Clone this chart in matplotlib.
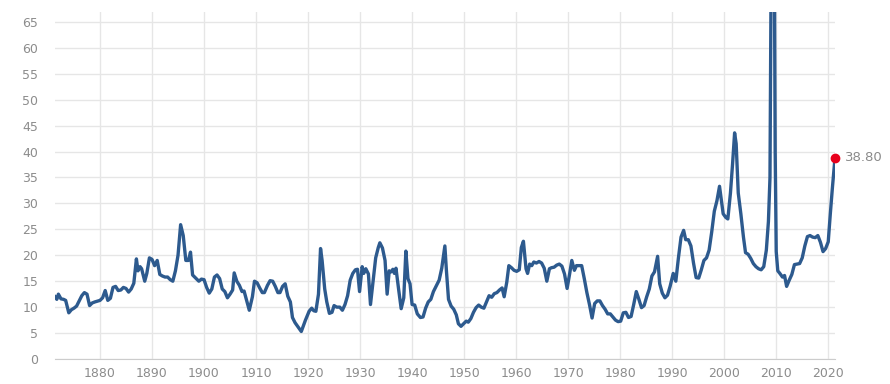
import matplotlib.pyplot as plt

# S&P 500 PE ratio (fractional years)
years = [
    1871.35, 1871.7, 1872.0, 1872.5, 1873.0, 1873.4, 1874.0, 1874.5, 1875.0, 1875.5,
    1876.0, 1876.5, 1877.0, 1877.5, 1878.0, 1878.5, 1879.0, 1880.0, 1880.5, 1881.0,
    1881.5, 1882.0, 1882.5, 1883.0, 1883.5, 1884.0, 1884.5, 1885.0, 1885.5, 1886.0,
    1886.5, 1887.0, 1887.3, 1887.7, 1888.0, 1888.6, 1889.0, 1889.5, 1890.0, 1890.5,
    1891.0, 1891.5, 1892.0, 1892.5, 1893.0, 1893.5, 1894.0, 1894.5, 1895.0, 1895.5,
    1896.0, 1896.5, 1897.0, 1897.4, 1897.8, 1898.5, 1899.0, 1899.5, 1900.0, 1900.5,
    1901.0, 1901.5, 1902.0, 1902.5, 1903.0, 1903.5, 1904.0, 1904.5, 1905.0, 1905.5,
    1905.8, 1906.3, 1906.8, 1907.3, 1907.7, 1908.3, 1908.7, 1909.3, 1909.7, 1910.2,
    1910.7, 1911.2, 1911.6, 1912.2, 1912.7, 1913.2, 1913.7, 1914.2, 1914.6, 1915.1,
    1915.6, 1916.1, 1916.6, 1917.0, 1917.5, 1918.0, 1918.7, 1919.5, 1920.2, 1920.7,
    1921.1, 1921.5, 1922.0, 1922.4, 1922.7, 1923.2, 1923.6, 1924.1, 1924.6, 1925.0,
    1925.5, 1926.1, 1926.6, 1927.1, 1927.6, 1928.1, 1928.6, 1929.1, 1929.5, 1929.9,
    1930.4, 1930.7, 1931.1, 1931.6, 1932.0, 1932.5, 1933.0, 1933.5, 1933.8, 1934.3,
    1934.8, 1935.2, 1935.6, 1936.0, 1936.3, 1936.6, 1936.9, 1937.4, 1937.9, 1938.4,
    1938.8, 1939.2, 1939.6, 1940.0, 1940.5, 1941.0, 1941.6, 1942.1, 1942.6, 1943.1,
    1943.6, 1944.1, 1944.6, 1945.2, 1945.7, 1946.3, 1946.6, 1947.0, 1947.5, 1948.0,
    1948.5, 1948.9, 1949.4, 1949.9, 1950.4, 1950.8, 1951.3, 1951.8, 1952.3, 1952.8,
    1953.3, 1953.8, 1954.3, 1954.8, 1955.3, 1955.8, 1956.3, 1956.8, 1957.3, 1957.7,
    1958.2, 1958.6, 1959.1, 1959.6, 1960.1, 1960.6, 1961.0, 1961.4, 1961.9, 1962.2,
    1962.6, 1963.0, 1963.4, 1963.9, 1964.4, 1964.9, 1965.4, 1965.9, 1966.4, 1966.8,
    1967.3, 1967.8, 1968.3, 1968.8, 1969.3, 1969.8, 1970.3, 1970.7, 1971.2, 1971.6,
    1972.1, 1972.6, 1973.1, 1973.6, 1974.1, 1974.6, 1975.1, 1975.6, 1976.1, 1976.6,
    1977.1, 1977.6, 1978.1, 1978.6, 1979.1, 1979.6, 1980.1, 1980.6, 1981.1, 1981.6,
    1982.1, 1982.6, 1983.1, 1983.6, 1984.1, 1984.6, 1985.1, 1985.6, 1986.1, 1986.6,
    1987.2, 1987.6, 1988.1, 1988.6, 1989.1, 1989.6, 1990.2, 1990.7, 1991.2, 1991.7,
    1992.2, 1992.6, 1993.1, 1993.6, 1994.1, 1994.6, 1995.1, 1995.6, 1996.1, 1996.6,
    1997.1, 1997.6, 1998.1, 1998.6, 1999.1, 1999.4, 1999.8, 2000.3, 2000.7, 2001.2,
    2001.6, 2002.0, 2002.3, 2002.7, 2003.2, 2003.7, 2004.1, 2004.6, 2005.1, 2005.6,
    2006.1, 2006.6, 2007.1, 2007.6, 2008.1, 2008.5, 2008.8, 2009.0, 2009.3, 2009.6,
    2009.8, 2010.0, 2010.3, 2010.7, 2011.2, 2011.6, 2012.0, 2012.5, 2013.0, 2013.5,
    2014.0, 2014.5, 2015.0, 2015.5, 2016.0, 2016.5, 2017.0, 2017.5, 2018.0, 2018.5,
    2019.0, 2019.5, 2020.0, 2020.4, 2020.8, 2021.3,
]
pe = [
    12.0, 11.5, 12.5, 11.6, 11.5, 11.3, 8.9, 9.5, 9.8, 10.2,
    11.2, 12.2, 12.8, 12.5, 10.3, 10.8, 11.0, 11.3, 11.8, 13.2,
    11.3, 11.7, 13.8, 14.0, 13.2, 13.3, 13.8, 13.6, 12.9, 13.5,
    14.6, 19.3, 17.0, 17.8, 17.4, 15.0, 16.5, 19.5, 19.2, 18.0,
    19.0, 16.3, 16.0, 15.8, 15.8, 15.3, 15.0, 17.0, 20.0, 25.9,
    23.8, 19.0, 19.0, 20.6, 16.2, 15.5, 15.0, 15.4, 15.3, 13.8,
    12.7, 13.5, 15.8, 16.2, 15.5, 13.5, 13.0, 11.8, 12.5, 13.3,
    16.6, 15.0, 14.2, 13.0, 13.1, 10.9, 9.4, 12.0, 15.0, 14.7,
    13.7, 12.8, 12.8, 14.2, 15.1, 15.0, 14.0, 12.8, 12.8, 14.0,
    14.5, 12.1, 11.0, 8.0, 7.0, 6.3, 5.3, 7.5, 9.2, 9.8,
    9.3, 9.2, 12.5, 21.3, 19.0, 13.5, 11.0, 8.8, 9.0, 10.3,
    10.0, 10.0, 9.4, 10.5, 12.2, 15.2, 16.5, 17.2, 17.3, 13.0,
    17.8, 16.5, 17.4, 16.4, 10.5, 15.0, 19.5, 21.5, 22.4, 21.4,
    19.0, 12.5, 17.0, 16.8, 17.3, 16.5, 17.5, 13.5, 9.7, 11.8,
    20.8, 15.5, 14.5, 10.5, 10.4, 8.7, 8.0, 8.1, 9.8, 11.0,
    11.5, 13.0, 14.0, 15.2, 17.5, 21.8, 17.0, 11.5, 10.2, 9.6,
    8.5, 6.8, 6.3, 6.8, 7.3, 7.1, 7.8, 9.0, 9.9, 10.4,
    10.0, 9.8, 11.0, 12.2, 11.9, 12.6, 12.8, 13.3, 13.7, 12.0,
    14.8, 18.0, 17.6, 17.1, 16.9, 17.2, 21.5, 22.7, 17.4, 16.5,
    18.3, 18.0, 18.7, 18.5, 18.8, 18.5, 17.5, 15.0, 17.4, 17.6,
    17.7, 18.1, 18.3, 17.9, 16.4, 13.6, 16.5, 19.0, 17.1, 18.0,
    18.0, 18.0, 15.5, 12.8, 10.5, 7.9, 10.7, 11.2, 11.2, 10.3,
    9.6, 8.7, 8.7, 8.1, 7.5, 7.2, 7.3, 8.9, 9.0, 8.0,
    8.2, 10.5, 13.0, 11.5, 9.9, 10.3, 12.0, 13.5, 16.0, 16.8,
    19.8, 14.5, 12.7, 11.8, 12.3, 14.0, 16.5, 15.0, 19.5, 23.5,
    24.8, 23.0, 23.0, 21.8, 18.5, 15.7, 15.6, 17.2, 19.0, 19.5,
    21.0, 24.5, 28.5, 30.5, 33.3, 31.0, 28.0, 27.3, 27.0, 32.0,
    37.5, 43.6, 41.5, 32.0, 28.0, 23.5, 20.5, 20.2, 19.4, 18.4,
    17.8, 17.4, 17.2, 17.8, 21.0, 26.5, 35.0, 70.9, 123.7, 86.0,
    40.0, 20.7, 17.0, 16.5, 15.8, 16.1, 14.0, 15.2, 16.3, 18.2,
    18.3, 18.4, 19.5, 21.8, 23.6, 23.8, 23.5, 23.4, 23.8, 22.5,
    20.7, 21.3, 22.6, 28.0, 33.0, 38.8,
]
x_ticks = [1880, 1890, 1900, 1910, 1920, 1930, 1940, 1950, 1960, 1970, 1980, 1990, 2000, 2010, 2020]
y_ticks = list(range(0, 70, 5))

fig = plt.figure(figsize=(8.9, 3.84), dpi=100)
ax = fig.add_axes([55 / 890, 25 / 384, 780 / 890, 347 / 384])

ax.plot(years, pe, color="#2d5a8e", lw=2.4, solid_joinstyle="round", zorder=3)
ax.plot(years[-1], pe[-1], "o", color="#e8001c", ms=6, zorder=4, clip_on=False)
ax.annotate(f"{pe[-1]:.2f}", (years[-1], pe[-1]), xytext=(7, 0), textcoords="offset points",
            va="center", ha="left", color="#8a8a8a", fontsize=9.5, annotation_clip=False)

ax.set_xlim(years[0], years[-1])
ax.set_ylim(0, 66.9)
ax.set_xticks(x_ticks)
ax.set_yticks(y_ticks)
ax.grid(True, color="#e6e6e6", lw=1)
ax.set_axisbelow(True)
for side in ["top", "right", "left"]:
    ax.spines[side].set_visible(False)
ax.spines["bottom"].set_color("#cccccc")
ax.tick_params(length=0, labelsize=9, labelcolor="#8c8c8c")
ax.tick_params(axis="y", pad=12)
ax.tick_params(axis="x", pad=6)

fig.savefig("out.png", dpi=100)
